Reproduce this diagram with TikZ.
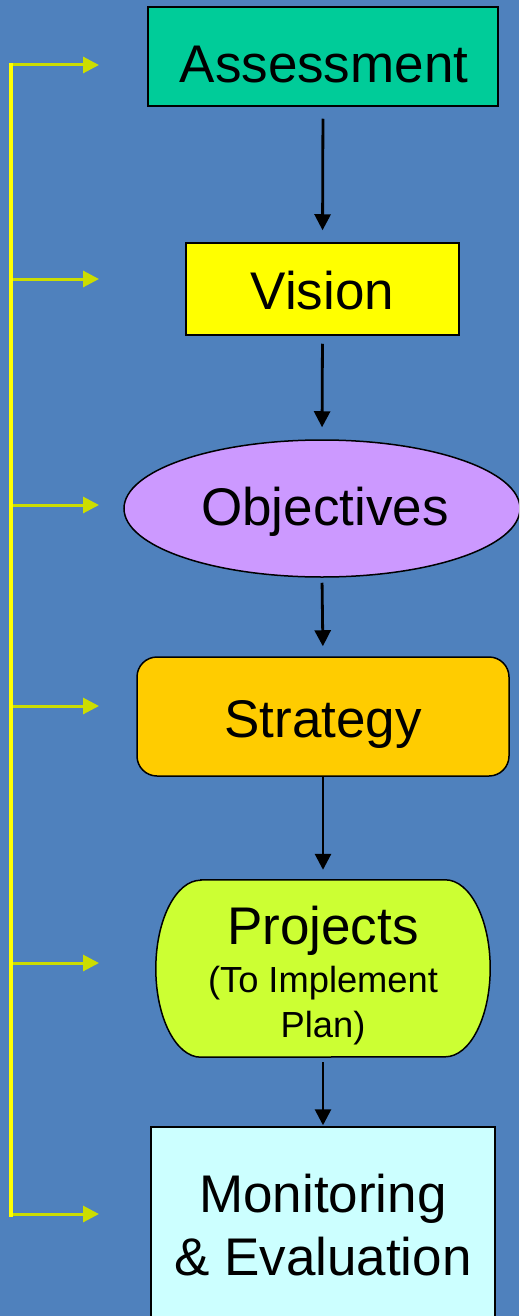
\documentclass[tikz,border=0pt]{standalone}
\usepackage{fontspec}
\setmainfont{Liberation Sans}
\usetikzlibrary{shapes.geometric,arrows.meta,calc}
\definecolor{bgblue}{RGB}{79,129,189}
\definecolor{teal1}{RGB}{0,204,153}
\definecolor{yel1}{RGB}{255,255,0}
\definecolor{lilac}{RGB}{204,153,255}
\definecolor{amber}{RGB}{255,204,0}
\definecolor{lime}{RGB}{204,255,51}
\definecolor{pale}{RGB}{204,255,255}
\definecolor{sidearrow}{RGB}{204,221,0}
\tikzset{
  shapebox/.style={draw=black,line width=1.5pt,inner sep=0pt},
  bigtext/.style={anchor=base,inner sep=0pt,font=\fontsize{53}{60}\selectfont},
  smalltext/.style={anchor=base,inner sep=0pt,font=\fontsize{36.3}{42}\selectfont},
  flowarrow/.style={draw=black,line width=2.8pt,-{Triangle[length=16pt,width=16pt]}},
  feedarrow/.style={draw=sidearrow,line width=3pt,-{Triangle[length=16pt,width=16pt]}},
  bracketline/.style={draw=yel1,line width=4pt}
}
\begin{document}
\begin{tikzpicture}[x=1pt,y=1pt]
\fill[bgblue] (0,0) rectangle (519,-1316);
\useasboundingbox (0,0) rectangle (519,-1316);
\clip (0,0) rectangle (519,-1316);

% shapes
\node[shapebox,fill=teal1,rectangle,minimum width=350pt,minimum height=99pt] (assess) at (323,-56.5) {};
\node[shapebox,fill=yel1,rectangle,minimum width=273pt,minimum height=92pt] (vision) at (322.5,-289) {};
\node[shapebox,fill=lilac,ellipse,minimum width=396pt,minimum height=137pt] (obj) at (322,-508.5) {};
\node[shapebox,fill=amber,rectangle,rounded corners=20pt,minimum width=372pt,minimum height=119pt] (strat) at (323,-716.5) {};
\node[inner sep=0pt,minimum width=334pt,minimum height=177pt] (proj) at (323,-968.5) {};
\draw[shapebox,fill=lime] ([xshift=45pt]proj.north west) -- ([xshift=-45pt]proj.north east)
  arc[start angle=90,end angle=-90,x radius=45,y radius=88.5]
  -- ([xshift=45pt]proj.south west)
  arc[start angle=270,end angle=90,x radius=45,y radius=88.5] -- cycle;
\node[shapebox,fill=pale,rectangle,minimum width=344pt,minimum height=203pt] (mon) at (323,-1228.5) {};

% texts
\node[bigtext] (tassess) at (324,-83) {Assessment};
\node[bigtext] (tvision) at (322.5,-309) {Vision};
\node[bigtext] (tobj) at (325,-525) {Objectives};
\node[bigtext] (tstrat) at (323,-737) {Strategy};
\node[bigtext] (tproj1) at (323,-944) {Projects};
\node[smalltext] (tproj2) at (323,-992) {(To Implement};
\node[smalltext] (tproj3) at (323,-1037) {Plan)};
\node[bigtext] (tmon1) at (323,-1212) {Monitoring};
\node[bigtext] (tmon2) at (323,-1275) {\& Evaluation};

% flow arrows
\draw[flowarrow,shorten <=12pt,shorten >=12pt] (assess.south) -- (vision.north);
\draw[flowarrow,shorten <=8pt,shorten >=12pt] (vision.south) -- (obj.south |- obj.north);
\draw[flowarrow,shorten <=5pt,shorten >=10pt] (obj.south) -- (strat.north);
\draw[flowarrow,shorten <=0pt,shorten >=10pt] (strat.south) -- (proj.north);
\draw[flowarrow,shorten <=5pt,shorten >=1pt] (proj.south) -- (mon.north);

% feedback bracket
\coordinate (btop) at (11,-63);
\coordinate (bbot) at (11,-1217);
\foreach \i/\y in {1/65,2/279,3/505,4/706,5/963,6/1214}{
  \coordinate (ls\i) at (11,-\y);
  \coordinate (le\i) at (99,-\y);
  \draw[feedarrow] (ls\i) -- (le\i);
}
\draw[bracketline] (btop) -- (bbot);
\end{tikzpicture}
\end{document}
